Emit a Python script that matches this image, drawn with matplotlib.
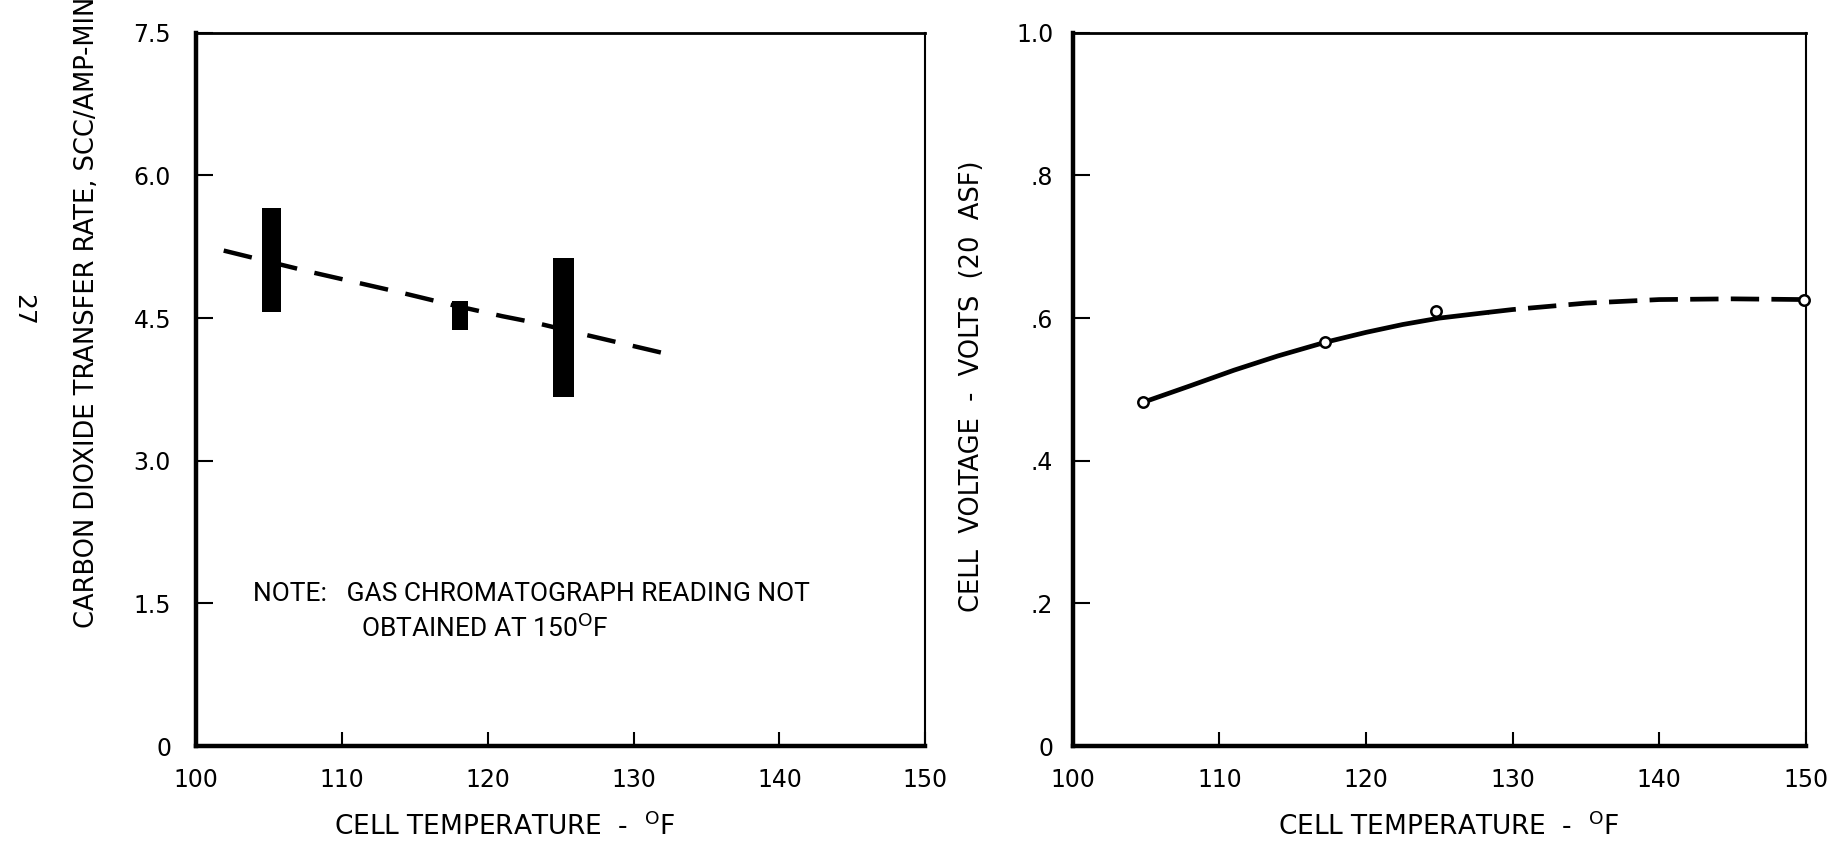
"""
Cell temperature effects: CO2 transfer rate (left) and cell voltage (right).
"""

import matplotlib
matplotlib.use("Agg")
from matplotlib import pyplot as plt

# ---- data ----
x_ticks = [100, 110, 120, 130, 140, 150]
x_tick_labels = ["100", "110", "120", "130", "140", "150"]

# left chart: measured CO2 transfer rate ranges (low/high) per temperature
bar_temps = [105.2, 118.1, 125.2]
bar_low = [4.56, 4.38, 3.67]
bar_high = [5.66, 4.68, 5.13]
bar_widths = [1.3, 1.15, 1.45]

# dashed trend line through the ranges
co2_line_temps = [101.9, 108.0, 114.0, 117.5, 121.0, 123.3, 126.0, 132.1]
co2_line_rates = [5.21, 4.98, 4.77, 4.64, 4.52, 4.45, 4.35, 4.13]

co2_ticks = [0, 1.5, 3.0, 4.5, 6.0, 7.5]
co2_tick_labels = ["0", "1.5", "3.0", "4.5", "6.0", "7.5"]

# right chart: measured cell voltage points
volt_temps = [104.8, 117.2, 124.8, 149.9]
volt_values = [0.482, 0.566, 0.610, 0.626]

# faired curve: solid part, then dashed extrapolation
curve_solid_temps = [104.8, 108.0, 111.0, 114.0, 117.2, 120.0, 122.5, 125.0, 128.3]
curve_solid_volts = [0.482, 0.505, 0.527, 0.547, 0.566, 0.580, 0.591, 0.600, 0.608]
curve_dash_temps = [128.3, 130.0, 135.0, 140.0, 145.0, 149.9]
curve_dash_volts = [0.608, 0.612, 0.621, 0.626, 0.627, 0.626]

volt_ticks = [0, 0.2, 0.4, 0.6, 0.8, 1.0]
volt_tick_labels = ["0", ".2", ".4", ".6", ".8", "1.0"]

SANS = ["DejaVu Sans"]
NARROW = ["Roboto", "DejaVu Sans"]
XLABEL = "CELL TEMPERATURE  -  $^{\\mathrm{O}}$F"


def style_axes(ax):
    """Thick left/bottom frame, thinner top/right, inward ticks."""
    ax.spines["left"].set_linewidth(3.2)
    ax.spines["bottom"].set_linewidth(3.2)
    ax.spines["top"].set_linewidth(2.0)
    ax.spines["right"].set_linewidth(1.5)
    ax.tick_params(axis="x", direction="in", length=10, width=1.5, pad=16)
    ax.tick_params(axis="y", direction="in", length=12, width=1.5, pad=16)
    ax.set_xlim(100, 150)
    ax.set_xticks(x_ticks)
    ax.set_xticklabels(x_tick_labels, family=SANS, fontsize=17)


def main():
    fig = plt.figure(figsize=(18.37, 8.42), dpi=100)
    ax1 = fig.add_axes([0.1067, 0.114, 0.397, 0.847])
    ax2 = fig.add_axes([0.584, 0.114, 0.399, 0.847])

    # ---- left chart ----
    heights = [h - l for h, l in zip(bar_high, bar_low)]
    ax1.bar(bar_temps, heights, bottom=bar_low, width=bar_widths,
            color="black", zorder=3)
    ax1.plot(co2_line_temps, co2_line_rates, color="black", lw=3.2,
             dashes=(6.5, 4.0), zorder=2)

    style_axes(ax1)
    ax1.set_ylim(0, 7.5)
    ax1.set_yticks(co2_ticks)
    ax1.set_yticklabels(co2_tick_labels, family=SANS, fontsize=17)
    ax1.tick_params(axis="y", pad=18)

    ax1.set_xlabel(XLABEL, family=SANS, fontsize=19)
    ax1.xaxis.set_label_coords(0.423, -0.113)
    ax1.xaxis.label.set_va("center")

    ax1.set_ylabel("CARBON DIOXIDE TRANSFER RATE, SCC/AMP-MIN", family=SANS,
                   fontsize=18.5)
    ax1.yaxis.set_label_coords(-0.149, 0.166)
    ax1.yaxis.label.set_ha("left")
    ax1.yaxis.label.set_va("center")

    ax1.text(0.078, 0.213, "NOTE:   GAS CHROMATOGRAPH READING NOT",
             transform=ax1.transAxes, family=NARROW, fontsize=19,
             ha="left", va="center")
    ax1.text(0.226, 0.166, "OBTAINED AT 150$^{\\mathrm{O}}$F",
             transform=ax1.transAxes, family=NARROW, fontsize=19,
             ha="left", va="center")

    # ---- right chart ----
    ax2.plot(curve_solid_temps, curve_solid_volts, color="black", lw=3.4,
             solid_capstyle="round", zorder=2)
    ax2.plot(curve_dash_temps, curve_dash_volts, color="black", lw=3.4,
             dashes=(6, 2.6), zorder=2)
    ax2.plot(volt_temps, volt_values, linestyle="none", marker="o",
             markersize=7.5, markerfacecolor="white", markeredgecolor="black",
             markeredgewidth=1.8, clip_on=False, zorder=4)

    style_axes(ax2)
    ax2.set_ylim(0, 1.0)
    ax2.set_yticks(volt_ticks)
    ax2.set_yticklabels(volt_tick_labels, family=SANS, fontsize=17)
    ax2.tick_params(axis="y", pad=14)

    ax2.set_xlabel(XLABEL, family=SANS, fontsize=19)
    ax2.xaxis.set_label_coords(0.513, -0.113)
    ax2.xaxis.label.set_va("center")

    ax2.set_ylabel("CELL  VOLTAGE  -  VOLTS  (20  ASF)", family=SANS,
                   fontsize=18.5)
    ax2.yaxis.set_label_coords(-0.138, 0.504)
    ax2.yaxis.label.set_va("center")

    # page number printed sideways in the margin
    fig.text(0.0125, 0.632, "27", rotation=-90, family=SANS, fontsize=18,
             ha="center", va="center")

    fig.savefig("out.png", dpi=100, facecolor="white")


if __name__ == "__main__":
    main()
